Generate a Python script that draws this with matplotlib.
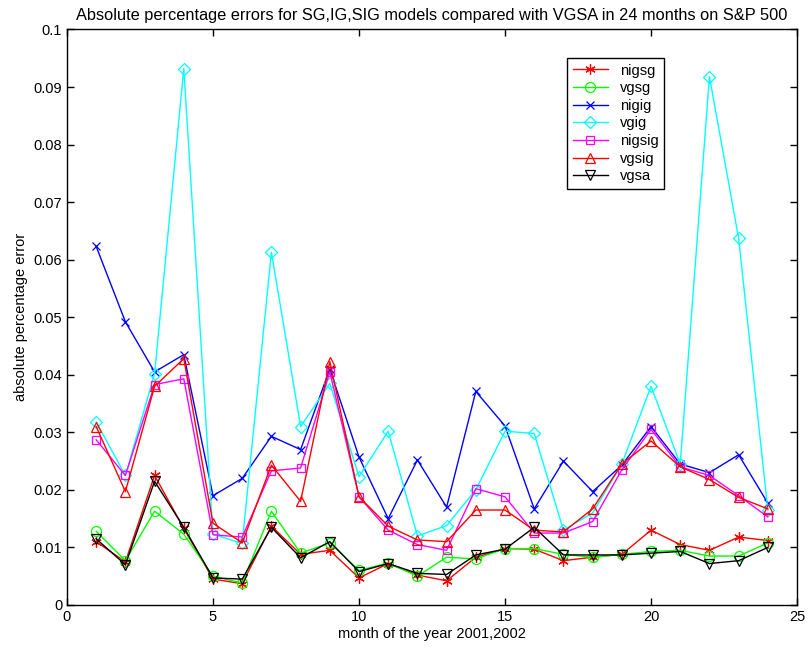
import numpy as np
import matplotlib.pyplot as plt

plt.rcParams['font.family'] = ['Liberation Sans', 'DejaVu Sans']

months = np.arange(1, 25)

nigsg = [0.0110, 0.0075, 0.0225, 0.0133, 0.0045, 0.0037, 0.0137, 0.0088,
         0.0095, 0.0047, 0.0072, 0.0052, 0.0042, 0.0083, 0.0098, 0.0097,
         0.0077, 0.0083, 0.0088, 0.0130, 0.0105, 0.0095, 0.0118, 0.0112]
vgsg = [0.0128, 0.0077, 0.0163, 0.0123, 0.0050, 0.0038, 0.0163, 0.0090,
        0.0108, 0.0060, 0.0073, 0.0050, 0.0083, 0.0080, 0.0098, 0.0098,
        0.0088, 0.0083, 0.0088, 0.0093, 0.0095, 0.0085, 0.0085, 0.0108]
nigig = [0.0623, 0.0492, 0.0405, 0.0435, 0.0190, 0.0220, 0.0293, 0.0270,
         0.0410, 0.0257, 0.0150, 0.0252, 0.0170, 0.0371, 0.0311, 0.0167,
         0.0250, 0.0197, 0.0243, 0.0310, 0.0245, 0.0230, 0.0261, 0.0177]
vgig = [0.0318, 0.0225, 0.0402, 0.0932, 0.0123, 0.0107, 0.0613, 0.0310,
        0.0385, 0.0223, 0.0302, 0.0120, 0.0138, 0.0200, 0.0302, 0.0298,
        0.0130, 0.0160, 0.0245, 0.0380, 0.0245, 0.0918, 0.0637, 0.0165]
nigsig = [0.0287, 0.0225, 0.0383, 0.0393, 0.0122, 0.0118, 0.0233, 0.0238,
          0.0405, 0.0188, 0.0130, 0.0105, 0.0095, 0.0202, 0.0188, 0.0125,
          0.0125, 0.0145, 0.0235, 0.0305, 0.0240, 0.0225, 0.0190, 0.0153]
vgsig = [0.0310, 0.0197, 0.0380, 0.0428, 0.0142, 0.0108, 0.0243, 0.0180,
         0.0423, 0.0188, 0.0137, 0.0113, 0.0110, 0.0165, 0.0165, 0.0130,
         0.0127, 0.0167, 0.0245, 0.0285, 0.0240, 0.0218, 0.0187, 0.0167]
vgsa = [0.0115, 0.0070, 0.0215, 0.0135, 0.0047, 0.0045, 0.0135, 0.0082,
        0.0110, 0.0058, 0.0072, 0.0055, 0.0053, 0.0087, 0.0097, 0.0135,
        0.0087, 0.0087, 0.0087, 0.0090, 0.0093, 0.0072, 0.0077, 0.0100]

# name, data, colour, marker, marker size
series = [
    ('nigsg', nigsg, (1, 0, 0), (6, 2, 0), 7.5),
    ('vgsg', vgsg, (0, 1, 0), 'o', 7.2),
    ('nigig', nigig, (0, 0, 1), 'x', 6),
    ('vgig', vgig, (0, 1, 1), 'D', 6.5),
    ('nigsig', nigsig, (1, 0, 1), 's', 6),
    ('vgsig', vgsig, (1, 0, 0), '^', 7.5),
    ('vgsa', vgsa, (0, 0, 0), 'v', 7.5),
]

fig = plt.figure(figsize=(8.1, 6.52), dpi=100)
ax = fig.add_axes([0.0827, 0.0721, 0.9013, 0.8827])

for name, y, col, mk, ms in series:
    ax.plot(months, y, color=col, marker=mk, markersize=ms, linewidth=1,
            markerfacecolor='none', markeredgecolor=col, markeredgewidth=0.9,
            label=name)

ax.set_xlim(0, 25)
ax.set_ylim(0, 0.1)
ax.set_xticks(np.arange(0, 26, 5))
ax.set_yticks(np.arange(0, 0.101, 0.01))
ax.set_yticklabels(['0', '0.01', '0.02', '0.03', '0.04', '0.05', '0.06',
                    '0.07', '0.08', '0.09', '0.1'])
ax.tick_params(direction='in', top=True, right=True, labelsize=10.5,
               length=5, width=1)
for s in ax.spines.values():
    s.set_linewidth(1)

ax.set_xlabel('month of the year 2001,2002', fontsize=10.5, labelpad=2)
ax.set_ylabel('absolute percentage error', fontsize=10.5, labelpad=4)
ax.set_title('Absolute percentage errors for SG,IG,SIG models compared with VGSA in 24 months on S&P 500',
             fontsize=11.8, pad=7)

leg = ax.legend(loc='upper left', bbox_to_anchor=(0.685, 0.951), fontsize=10.5,
                frameon=True, fancybox=False, edgecolor='k', framealpha=1,
                borderpad=0.4, labelspacing=0.25, handlelength=2.4,
                handletextpad=0.8, borderaxespad=0)
leg.get_frame().set_linewidth(1)

fig.savefig('out.png', dpi=100)
